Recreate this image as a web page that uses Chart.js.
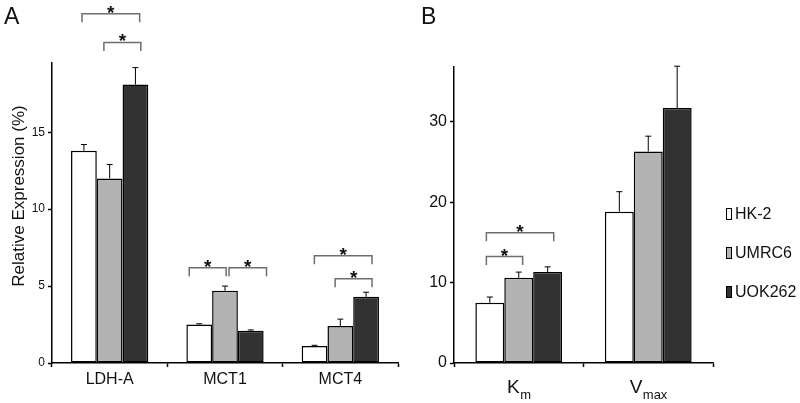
<!DOCTYPE html>
<html>
<head>
<meta charset="utf-8">
<script src="https://cdn.jsdelivr.net/npm/chart.js@4.4.0/dist/chart.umd.min.js"></script>
<style>
  body { margin: 0; background: #fff; }
  #wrap { position: relative; width: 800px; height: 403px; }
  .panel { position: absolute; top: 0; width: 400px; height: 403px; }
</style>
</head>
<body>
<div id="wrap">
  <div class="panel" style="left:0"><canvas id="chartA"></canvas></div>
  <div class="panel" style="left:400px"><canvas id="chartB"></canvas></div>
</div>
<script>
// cell lines
const seriesNames = ['HK-2', 'UMRC6', 'UOK262'];
const seriesColors = ['#ffffff', '#b3b3b3', '#323232'];

// panel A - relative expression (%)
const genes = ['LDH-A', 'MCT1', 'MCT4'];
const hk2Expr = [13.8, 2.5, 1.1];
const umrc6Expr = [12.0, 4.7, 2.4];
const uok262Expr = [18.1, 2.1, 4.3];
const hk2ExprErr = [0.4, 0.05, 0.05];
const umrc6ExprErr = [0.9, 0.3, 0.45];
const uok262ExprErr = [1.1, 0.05, 0.3];
const exprTicks = [0, 5, 10, 15];

// panel B - kinetics
const kinetics = ['K', 'V'];
const kineticsSub = ['m', 'max'];
const hk2Kin = [7.5, 18.8];
const umrc6Kin = [10.6, 26.3];
const uok262Kin = [11.3, 31.7];
const hk2KinErr = [0.7, 2.5];
const umrc6KinErr = [0.7, 1.9];
const uok262KinErr = [0.65, 5.2];
const kinTicks = [0, 10, 20, 30];

// significance brackets (category, ends as fraction of category width, height in data units)
const bracketsA = [
  { cat: 0, from: -0.24, to: 0.26, y: 22.7 },
  { cat: 0, from: -0.05, to: 0.27, y: 20.84 },
  { cat: 1, from: -0.31, to: 0.01, y: 6.19 },
  { cat: 1, from: 0.035, to: 0.36, y: 6.19 },
  { cat: 2, from: -0.225, to: 0.275, y: 6.97 },
  { cat: 2, from: -0.045, to: 0.275, y: 5.47 }
];
const bracketsB = [
  { cat: 0, from: -0.25, to: 0.27, y: 16.19 },
  { cat: 0, from: -0.25, to: 0.03, y: 13.24 }
];

const FONT = '"Liberation Sans", Arial, sans-serif';
Chart.defaults.font.family = FONT;

function makeSets(vals, errs) {
  return vals.map((v, i) => ({
    label: seriesNames[i],
    data: v,
    errors: errs[i],
    backgroundColor: seriesColors[i]
  }));
}

// upper error bars
const errorBars = {
  id: 'errorBars',
  afterDatasetsDraw(chart) {
    const ctx = chart.ctx;
    const y = chart.scales.y;
    ctx.save();
    ctx.strokeStyle = '#000';
    ctx.lineWidth = 1;
    chart.data.datasets.forEach((ds, i) => {
      chart.getDatasetMeta(i).data.forEach((bar, j) => {
        const top = y.getPixelForValue(ds.data[j] + ds.errors[j]);
        ctx.beginPath();
        ctx.moveTo(bar.x, bar.y);
        ctx.lineTo(bar.x, top);
        ctx.moveTo(bar.x - 3, top);
        ctx.lineTo(bar.x + 3, top);
        ctx.stroke();
      });
    });
    ctx.restore();
  }
};

// brackets with stars, panel letters, titles, legend
const extras = {
  id: 'extras',
  afterDraw(chart, args, opts) {
    const ctx = chart.ctx;
    const xs = chart.scales.x, ys = chart.scales.y;
    const catW = xs.width / chart.data.labels.length;
    ctx.save();

    (opts.brackets || []).forEach(b => {
      const c = xs.getPixelForValue(b.cat);
      const x1 = c + b.from * catW, x2 = c + b.to * catW;
      const yy = ys.getPixelForValue(b.y);
      ctx.strokeStyle = '#6e6e6e';
      ctx.lineWidth = 1.5;
      ctx.beginPath();
      ctx.moveTo(x1, yy + 8.5);
      ctx.lineTo(x1, yy);
      ctx.lineTo(x2, yy);
      ctx.lineTo(x2, yy + 8.5);
      ctx.stroke();
      ctx.fillStyle = '#111';
      ctx.font = 'bold 19px ' + FONT;
      ctx.textAlign = 'center';
      ctx.textBaseline = 'alphabetic';
      ctx.fillText('*', (x1 + x2) / 2, yy + 5);
    });

    ctx.fillStyle = '#111';
    ctx.font = '23px ' + FONT;
    ctx.textAlign = 'left';
    ctx.textBaseline = 'alphabetic';
    ctx.fillText(opts.letter, opts.letterX, 24);

    if (opts.yTitle) {
      ctx.save();
      ctx.translate(19, 196);
      ctx.rotate(-Math.PI / 2);
      ctx.font = '17px ' + FONT;
      ctx.textAlign = 'center';
      ctx.textBaseline = 'middle';
      ctx.fillText(opts.yTitle, 0, 0);
      ctx.restore();
    }

    if (opts.subs) {
      chart.data.labels.forEach((lab, i) => {
        ctx.font = '19px ' + FONT;
        const w1 = ctx.measureText(lab).width;
        ctx.font = '13px ' + FONT;
        const w2 = ctx.measureText(opts.subs[i]).width;
        const x0 = xs.getPixelForValue(i) - (w1 + w2) / 2;
        ctx.textAlign = 'left';
        ctx.font = '19px ' + FONT;
        ctx.fillText(lab, x0, 393);
        ctx.font = '13px ' + FONT;
        ctx.fillText(opts.subs[i], x0 + w1 + 0.5, 399);
      });
    }

    if (opts.legend) {
      const rows = [214, 253, 292];
      chart.data.datasets.forEach((ds, i) => {
        ctx.fillStyle = ds.backgroundColor;
        ctx.strokeStyle = '#000';
        ctx.lineWidth = 1;
        ctx.fillRect(326.5, rows[i] - 5.5, 5, 11);
        ctx.strokeRect(326.5, rows[i] - 5.5, 5, 11);
        ctx.fillStyle = '#111';
        ctx.font = '16px ' + FONT;
        ctx.textAlign = 'left';
        ctx.textBaseline = 'middle';
        ctx.fillText(ds.label, 335, rows[i] + 1);
      });
    }
    ctx.restore();
  }
};

function axisGrid() {
  return {
    display: true,
    drawOnChartArea: false,
    drawTicks: true,
    tickLength: 4,
    tickColor: '#000',
    tickWidth: 1.5
  };
}

function makeChart(id, labels, sets, yMax, tickVals, tickSize, yWidth, padTop, padRight, showXTicks, extraOpts) {
  return new Chart(document.getElementById(id), {
    type: 'bar',
    data: { labels: labels, datasets: sets },
    options: {
      responsive: true,
      maintainAspectRatio: false,
      animation: false,
      layout: { padding: { top: padTop, right: padRight, left: 0, bottom: 0 } },
      datasets: {
        bar: {
          borderColor: '#000',
          borderWidth: 1.5,
          borderSkipped: false,
          categoryPercentage: 0.67,
          barPercentage: 1
        }
      },
      scales: {
        x: {
          offset: true,
          grid: axisGrid(),
          border: { color: '#000', width: 1.5 },
          ticks: { display: showXTicks, font: { size: 16 }, color: '#111', padding: 3 },
          afterFit: s => { s.height = 40; }
        },
        y: {
          min: 0,
          max: yMax,
          ticks: { font: { size: tickSize }, color: '#111', padding: 3 },
          afterBuildTicks: s => { s.ticks = tickVals.map(v => ({ value: v })); },
          grid: axisGrid(),
          border: { color: '#000', width: 1.5 },
          afterFit: s => { s.width = yWidth; }
        }
      },
      plugins: {
        legend: { display: false },
        tooltip: { enabled: false },
        extras: extraOpts
      }
    },
    plugins: [errorBars, extras]
  });
}

makeChart('chartA', genes,
  makeSets([hk2Expr, umrc6Expr, uok262Expr], [hk2ExprErr, umrc6ExprErr, uok262ExprErr]),
  19.5, exprTicks, 12, 52, 63, 2, true,
  { letter: 'A', letterX: 4, yTitle: 'Relative Expression (%)', brackets: bracketsA });

makeChart('chartB', kinetics,
  makeSets([hk2Kin, umrc6Kin, uok262Kin], [hk2KinErr, umrc6KinErr, uok262KinErr]),
  36.8, kinTicks, 16, 54, 67, 87, false,
  { letter: 'B', letterX: 21, subs: kineticsSub, brackets: bracketsB, legend: true });
</script>
</body>
</html>
